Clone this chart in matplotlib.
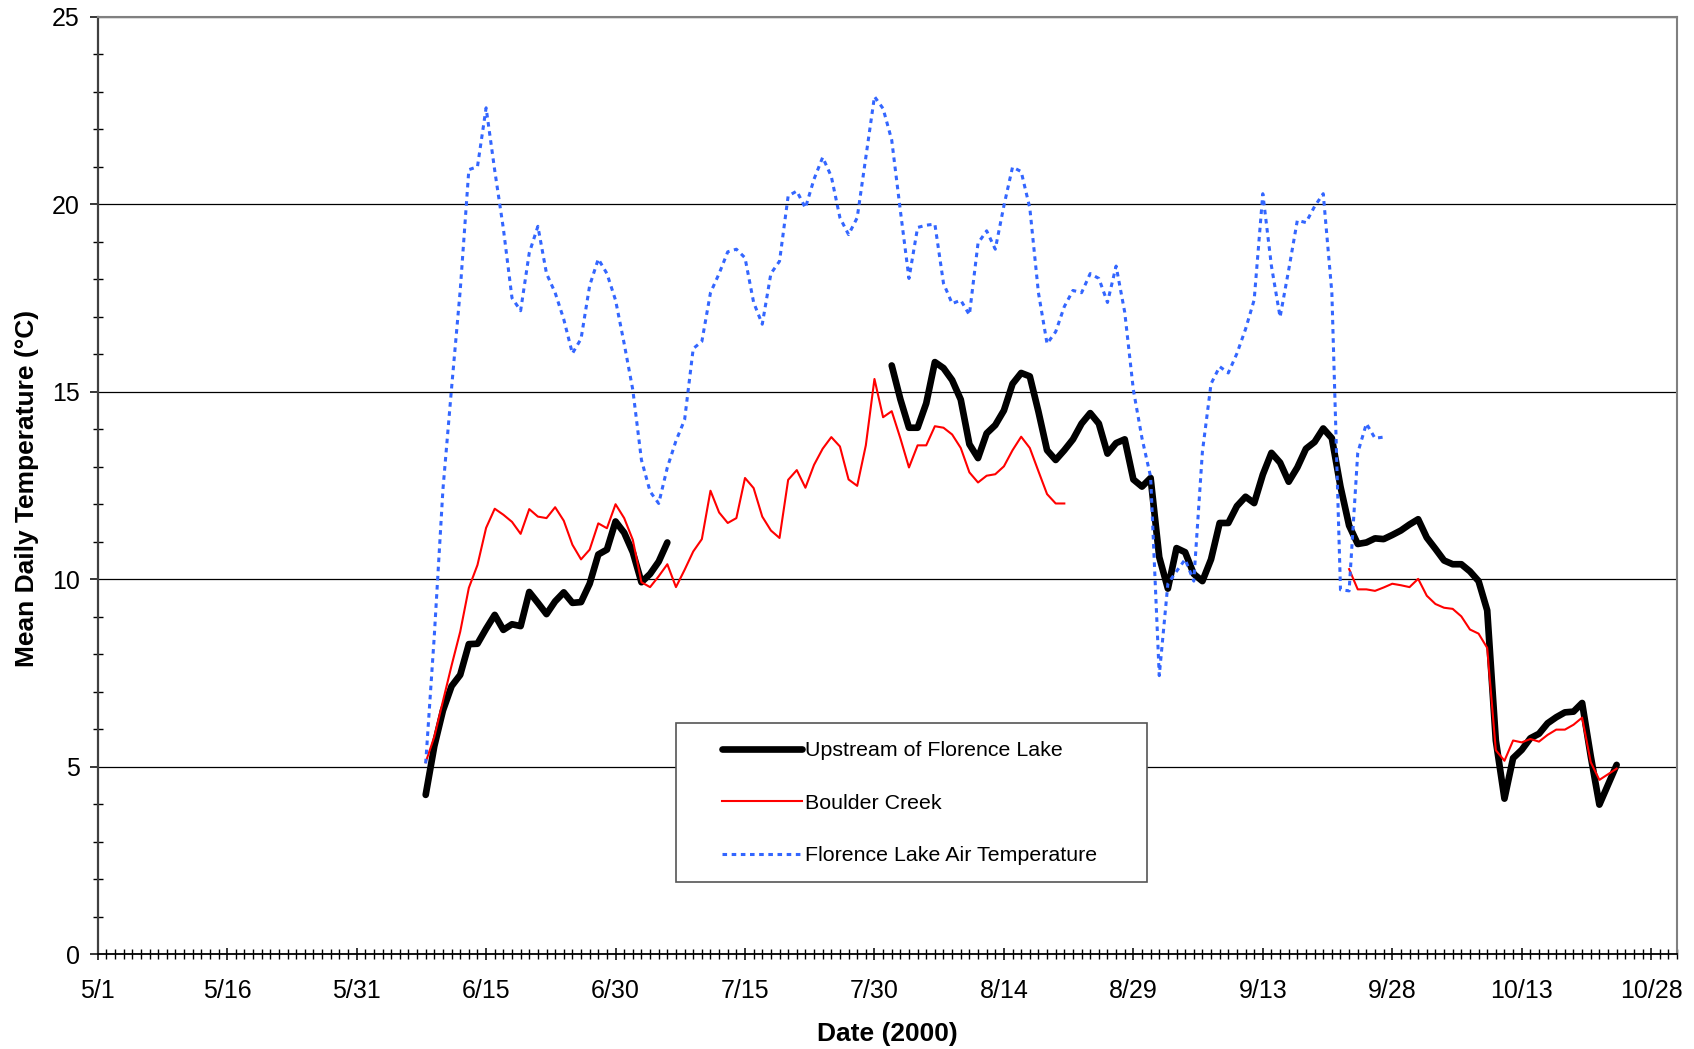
import numpy as np
import matplotlib
matplotlib.use('Agg')
from matplotlib import pyplot as plt
from matplotlib.patches import Rectangle
from matplotlib.ticker import FixedLocator, MultipleLocator

plt.rcParams['font.family'] = ['Liberation Sans', 'DejaVu Sans']

# days counted from 5/1/2000
tick_days = [0, 15, 30, 45, 60, 75, 90, 105, 120, 135, 150, 165, 180]
tick_labels = ['5/1', '5/16', '5/31', '6/15', '6/30', '7/15', '7/30',
               '8/14', '8/29', '9/13', '9/28', '10/13', '10/28']

# Upstream of Florence Lake (two runs of daily means)
upstream_start1 = 38
upstream1 = [4.25, 5.55, 6.5, 7.15, 7.45, 8.27, 8.28, 8.68, 9.05, 8.65,
             8.8, 8.75, 9.66, 9.37, 9.07, 9.41, 9.65, 9.37, 9.39, 9.88,
             10.66, 10.79, 11.54, 11.24, 10.72, 9.92, 10.14, 10.47, 10.98]
upstream_start2 = 92
upstream2 = [15.7, 14.8, 14.04, 14.04, 14.69, 15.79, 15.63, 15.31, 14.79, 13.6,
             13.23, 13.89, 14.11, 14.5, 15.21, 15.5, 15.41, 14.47, 13.44, 13.18,
             13.44, 13.73, 14.15, 14.43, 14.15, 13.35, 13.63, 13.73, 12.66, 12.47,
             12.7, 10.59, 9.75, 10.83, 10.72, 10.14, 9.95, 10.53, 11.5, 11.5,
             11.95, 12.2, 12.03, 12.79, 13.37, 13.11, 12.6, 12.98, 13.48, 13.66,
             14.02, 13.76, 12.47, 11.43, 10.94, 10.98, 11.09, 11.07, 11.18, 11.3,
             11.46, 11.6, 11.11, 10.81, 10.5, 10.4, 10.4, 10.21, 9.95, 9.17,
             5.7, 4.15, 5.23, 5.45, 5.76, 5.88, 6.16, 6.32, 6.45, 6.47,
             6.7, 5.28, 3.99, 4.52, 5.05]

# Boulder Creek
boulder_start1 = 38
boulder1 = [5.12, 5.8, 6.75, 7.7, 8.6, 9.77, 10.38, 11.37, 11.88, 11.72,
            11.53, 11.21, 11.87, 11.67, 11.63, 11.92, 11.56, 10.92, 10.53, 10.79,
            11.49, 11.36, 12.0, 11.63, 11.05, 9.92, 9.79, 10.08, 10.4, 9.79,
            10.25, 10.74, 11.07, 12.36, 11.78, 11.5, 11.63, 12.7, 12.43, 11.67,
            11.3, 11.1, 12.65, 12.91, 12.44, 13.05, 13.48, 13.79, 13.54, 12.66,
            12.49, 13.57, 15.34, 14.32, 14.48, 13.76, 12.98, 13.57, 13.57, 14.08,
            14.04, 13.86, 13.5, 12.85, 12.58, 12.76, 12.8, 13.01, 13.44, 13.8,
            13.5, 12.88, 12.27, 12.02, 12.02]
boulder_start2 = 145
boulder2 = [10.27, 9.73, 9.73, 9.69, 9.78, 9.88, 9.84, 9.79, 10.01, 9.56,
            9.34, 9.24, 9.21, 9.01, 8.66, 8.55, 8.17, 5.44, 5.16, 5.7,
            5.65, 5.74, 5.67, 5.85, 5.99, 5.99, 6.12, 6.31, 5.12, 4.65,
            4.8, 4.95]

# Florence Lake air temperature
air_start = 38
air = [5.09, 8.5, 12.4, 15.1, 17.7, 20.92, 21.0, 22.57, 20.9, 19.35,
       17.5, 17.16, 18.7, 19.41, 18.15, 17.64, 16.93, 16.02, 16.41, 17.83,
       18.54, 18.15, 17.44, 16.28, 15.05, 13.18, 12.34, 12.02, 12.98, 13.69,
       14.25, 16.15, 16.34, 17.64, 18.15, 18.73, 18.8, 18.57, 17.38, 16.8,
       18.15, 18.48, 20.22, 20.35, 19.9, 20.67, 21.25, 20.74, 19.64, 19.19,
       19.64, 21.25, 22.87, 22.55, 21.71, 19.83, 18.02, 19.38, 19.44, 19.47,
       17.89, 17.35, 17.44, 17.05, 18.96, 19.29, 18.8, 19.96, 20.99, 20.87,
       19.9, 17.64, 16.28, 16.6, 17.27, 17.7, 17.64, 18.15, 18.02, 17.38,
       18.35, 17.12, 15.05, 13.76, 12.73, 7.43, 9.88, 10.21, 10.53, 9.95,
       13.4, 15.21, 15.67, 15.5, 16.02, 16.67, 17.45, 20.28, 18.35, 16.99,
       18.25, 19.57, 19.51, 19.94, 20.28, 17.64, 9.72, 9.69, 13.37, 14.15,
       13.76, 13.79]


def days(start, vals):
    return np.arange(start, start + len(vals))


fig = plt.figure(figsize=(16.94, 10.49), dpi=100)
ax = fig.add_axes([0.0577, 0.0903, 0.9323, 0.8938])

black_kw = dict(color='black', lw=4.8, solid_capstyle='round', solid_joinstyle='round', zorder=2)
ax.plot(days(upstream_start1, upstream1), upstream1, label='Upstream of Florence Lake', **black_kw)
ax.plot(days(upstream_start2, upstream2), upstream2, **black_kw)

red_kw = dict(color='#FF0000', lw=1.5, zorder=3)
ax.plot(days(boulder_start1, boulder1), boulder1, label='Boulder Creek', **red_kw)
ax.plot(days(boulder_start2, boulder2), boulder2, **red_kw)

ax.plot(days(air_start, air), air, color='#3366FF', lw=2.2, dashes=(1.5, 1.5),
        label='Florence Lake Air Temperature', zorder=4)

ax.set_xlim(0, 183)
ax.set_ylim(0, 25)

ax.xaxis.set_major_locator(FixedLocator(tick_days))
ax.set_xticklabels(tick_labels)
ax.xaxis.set_minor_locator(MultipleLocator(1))
ax.yaxis.set_major_locator(MultipleLocator(5))
ax.yaxis.set_minor_locator(MultipleLocator(1))

ax.tick_params(axis='x', which='major', direction='inout', length=9, width=1.1,
               pad=13.5, labelsize=18)
ax.tick_params(axis='x', which='minor', direction='inout', length=7, width=1.0)
ax.tick_params(axis='y', which='major', direction='out', length=5.5, width=1.1,
               pad=7.5, labelsize=18)
ax.tick_params(axis='y', which='minor', direction='inout', length=7.5, width=1.0)

ax.grid(axis='y', which='major', color='black', lw=0.9)

ax.spines['left'].set_color('#404040')
ax.spines['left'].set_linewidth(1.6)
ax.spines['bottom'].set_color('black')
ax.spines['bottom'].set_linewidth(1.3)
for s in ('top', 'right'):
    ax.spines[s].set_color('#808080')
    ax.spines[s].set_linewidth(1.5)

fig.text(27 / 1694, 1 - 488 / 1049, 'Mean Daily Temperature (°C)', rotation=90,
         ha='center', va='center', fontsize=19, fontweight='bold')
fig.text(0.5237, 1 - 1041 / 1049, 'Date (2000)', ha='center', va='baseline',
         fontsize=19, fontweight='bold')

# legend box
ax.add_patch(Rectangle((0.366, 0.0768), 0.2986, 0.1696, transform=ax.transAxes,
                       facecolor='white', edgecolor='#555555', lw=1.2, zorder=5))
leg = ax.legend(loc='upper left', bbox_to_anchor=(0.3951, 0.2272), frameon=False,
                fontsize=15.4, handlelength=3.75, handletextpad=0.16,
                labelspacing=1.56, borderpad=0, borderaxespad=0)
leg.set_zorder(6)

plt.savefig('out.png', dpi=100)
